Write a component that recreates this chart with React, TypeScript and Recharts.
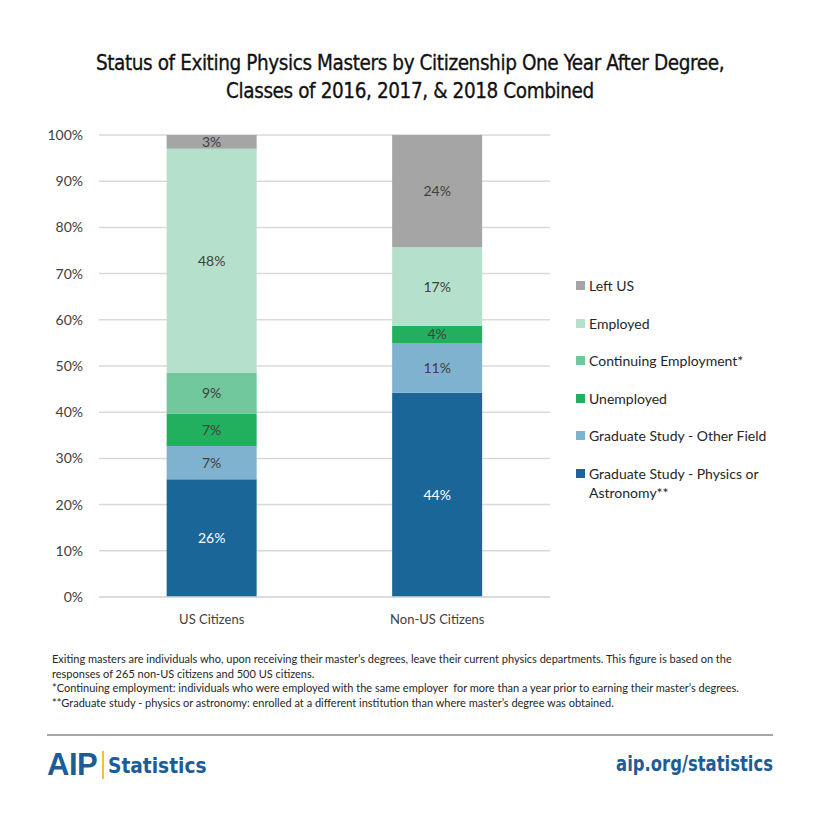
import React from 'react';
import { BarChart, Bar, XAxis, YAxis, CartesianGrid, LabelList } from 'recharts';

const categories = ['US Citizens', 'Non-US Citizens'];
const gradPhysics = [25.5, 44.2];
const gradOther = [7.2, 10.8];
const unemployed = [7.0, 3.7];
const continuing = [8.9, 0];
const employed = [48.4, 17.0];
const leftUS = [3.0, 24.3];
const yTicks = [0, 10, 20, 30, 40, 50, 60, 70, 80, 90, 100];

const seriesDefs = [
  { key: 'gradPhysics', name: 'Graduate Study - Physics or Astronomy**', values: gradPhysics, color: '#1B6699', label: '#FFFFFF' },
  { key: 'gradOther', name: 'Graduate Study - Other Field', values: gradOther, color: '#7FB2CE', label: '#404040' },
  { key: 'unemployed', name: 'Unemployed', values: unemployed, color: '#22B05E', label: '#404040' },
  { key: 'continuing', name: 'Continuing Employment*', values: continuing, color: '#6FC79B', label: '#404040' },
  { key: 'employed', name: 'Employed', values: employed, color: '#B5E0CB', label: '#404040' },
  { key: 'leftUS', name: 'Left US', values: leftUS, color: '#A5A5A5', label: '#404040' },
];

const data = categories.map((c, i) => {
  const row: any = { category: c };
  seriesDefs.forEach((s) => { row[s.key] = s.values[i]; });
  return row;
});

const bodyFont = "Lato, 'Open Sans', sans-serif";
const condFont = "'DejaVu Sans', sans-serif";

const fmt = (v: any) => (v && v > 0 ? `${Math.round(v)}%` : '');

export default function App() {
  return (
    <div style={{ position: 'absolute', left: 0, top: 0, width: 820, height: 814, background: '#fff', fontFamily: bodyFont, overflow: 'hidden' }}>
      <div style={{ position: 'absolute', left: 0, top: 49, width: 820, textAlign: 'center', fontFamily: condFont, fontStretch: 'condensed', fontSize: 20.5, color: '#111', lineHeight: '28px', letterSpacing: -0.4, WebkitTextStroke: '0.3px #111' }}>
        Status of Exiting Physics Masters by Citizenship One Year After Degree,<br />
        Classes of 2016, 2017, &amp; 2018 Combined
      </div>
      <div style={{ position: 'absolute', left: 0, top: 0 }}>
        <BarChart width={820} height={640} data={data} margin={{ top: 135, right: 270, bottom: 13, left: 39 }} barCategoryGap="30%">
          <CartesianGrid vertical={false} stroke="#D9D9D9" strokeWidth={1.5} />
          <XAxis dataKey="category" height={30} axisLine={{ stroke: '#D9D9D9', strokeWidth: 1.5 }} tickLine={false} tick={{ fill: '#404040', fontSize: 13, fontFamily: bodyFont }} tickMargin={12} />
          <YAxis domain={[0, 100]} ticks={yTicks} interval={0} width={60} axisLine={false} tickLine={false} tickSize={0} tickMargin={16} tickFormatter={(v) => `${v}%`} tick={{ fill: '#404040', fontSize: 14, fontFamily: bodyFont }} />
          {seriesDefs.map((s) => (
            <Bar key={s.key} dataKey={s.key} name={s.name} stackId="a" fill={s.color} isAnimationActive={false}>
              <LabelList dataKey={s.key} position="center" formatter={fmt} fill={s.label} fontSize={14} fontFamily={bodyFont} />
            </Bar>
          ))}
        </BarChart>
      </div>
      <div style={{ position: 'absolute', left: 576, top: 276 }}>
        {[...seriesDefs].reverse().map((s) => (
          <div key={s.key} style={{ display: 'flex', alignItems: 'flex-start', height: 37.6, fontSize: 14, color: '#262626', lineHeight: '19px' }}>
            <div style={{ width: 9, height: 9, background: s.color, marginTop: 5, marginRight: 4, flexShrink: 0 }} />
            <div style={{ width: 190 }}>{s.name}</div>
          </div>
        ))}
      </div>
      <div style={{ position: 'absolute', left: 52, top: 652, width: 730, fontSize: 11, color: '#262626', lineHeight: '14.7px' }}>
        Exiting masters are individuals who, upon receiving their master’s degrees, leave their current physics departments. This figure is based on the responses of 265 non-US citizens and 500 US citizens.<br />
        *Continuing employment: individuals who were employed with the same employer&nbsp; for more than a year prior to earning their master’s degrees.<br />
        **Graduate study - physics or astronomy: enrolled at a different institution than where master’s degree was obtained.
      </div>
      <div style={{ position: 'absolute', left: 47, top: 734, width: 726, height: 2, background: '#A6A6A6' }} />
      <div style={{ position: 'absolute', left: 47, top: 748, display: 'flex', alignItems: 'center', height: 34 }}>
        <span style={{ fontFamily: "'Liberation Sans', Arial, sans-serif", fontSize: 31, color: '#1D5C96', letterSpacing: -0.5, fontWeight: 'bold' }}>AIP</span>
        <span style={{ display: 'inline-block', width: 2, height: 28, background: '#F2C230', margin: '0 4px 0 5px' }} />
        <span style={{ display: 'inline-block', fontFamily: condFont, fontStretch: 'condensed', fontSize: 22, color: '#1D5C96', fontWeight: 'bold', transform: 'scaleX(0.94)', transformOrigin: 'left center' }}>Statistics</span>
      </div>
      <div style={{ position: 'absolute', right: 47, top: 751, fontFamily: condFont, fontStretch: 'condensed', fontSize: 22, color: '#1D5C96', fontWeight: 'bold', transform: 'scaleX(0.83)', transformOrigin: 'right center' }}>
        aip.org/statistics
      </div>
    </div>
  );
}
